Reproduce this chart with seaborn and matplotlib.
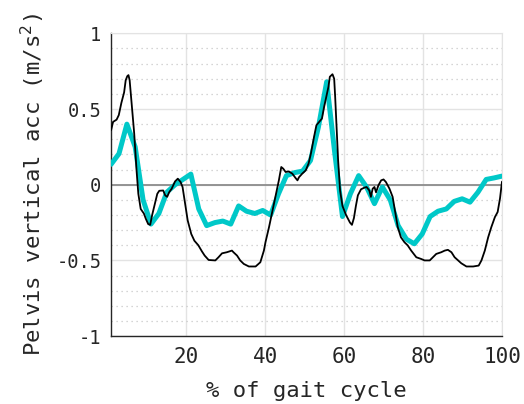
import numpy as np
import pandas as pd
import seaborn as sns
import matplotlib.pyplot as plt
from matplotlib.ticker import MultipleLocator

# measured pelvis acceleration (black, dense)
meas_x = [1.0, 1.5, 2.4, 2.95, 3.6, 4.3, 4.7, 5.1, 5.4, 5.7, 6.2, 6.85, 7.45, 7.9, 8.5,
          9.3, 9.8, 10.4, 10.9, 11.4, 12.1, 12.7, 13.2, 14.2, 14.7, 15.2, 15.7, 16.35,
          17.2, 17.9, 18.6, 19.1, 19.75, 20.4, 21.3, 22.1, 23.1, 24.0, 24.7, 25.7, 27.4,
          28.2, 29.1, 30.3, 31.6, 32.0, 32.9, 33.7, 34.6, 35.9, 37.6, 38.8, 39.7, 40.1,
          41.0, 41.8, 42.6, 43.5, 44.1, 44.6, 45.2, 46.0, 46.9, 47.7, 48.2, 48.6, 49.4,
          50.3, 51.0, 51.6, 52.4, 53.0, 53.7, 54.4, 54.95, 55.5, 56.05, 56.4, 57.07, 57.5,
          57.75, 58.1, 58.5, 59.0, 59.6, 60.5, 61.5, 62.0, 62.5, 63.0, 63.5, 64.3, 65.1,
          65.7, 66.4, 66.8, 67.25, 67.7, 68.1, 68.7, 69.4, 70.0, 70.6, 71.5, 72.3, 72.75,
          73.6, 74.4, 75.3, 76.1, 77.0, 78.3, 79.5, 80.4, 81.7, 82.5, 83.35, 84.6, 85.5,
          86.3, 87.2, 88.0, 88.9, 89.7, 91.0, 92.7, 94.1, 94.8, 95.65, 96.5, 97.3, 98.2,
          98.9, 99.5, 100.0]
meas_y = [0.36, 0.415, 0.43, 0.46, 0.54, 0.61, 0.69, 0.717, 0.724, 0.69, 0.54, 0.34, 0.095,
          -0.06, -0.16, -0.19, -0.225, -0.26, -0.265, -0.20, -0.126, -0.06, -0.04, -0.038,
          -0.07, -0.08, -0.05, -0.026, 0.022, 0.04, 0.018, -0.015, -0.126, -0.236, -0.325,
          -0.37, -0.40, -0.44, -0.468, -0.497, -0.50, -0.479, -0.453, -0.446, -0.435,
          -0.446, -0.468, -0.50, -0.523, -0.54, -0.54, -0.512, -0.435, -0.38, -0.28, -0.18,
          -0.08, 0.03, 0.117, 0.106, 0.084, 0.088, 0.073, 0.045, 0.029, 0.05, 0.073, 0.095,
          0.139, 0.205, 0.316, 0.393, 0.415, 0.437, 0.514, 0.58, 0.647, 0.713, 0.73, 0.70,
          0.58, 0.38, 0.16, -0.04, -0.14, -0.20, -0.25, -0.265, -0.22, -0.14, -0.07, -0.03,
          -0.02, -0.015, -0.038, -0.08, -0.026, -0.015, -0.05, -0.004, 0.029, 0.035, 0.018,
          -0.026, -0.08, -0.148, -0.28, -0.347, -0.38, -0.40, -0.435, -0.479, -0.49, -0.50,
          -0.50, -0.479, -0.457, -0.446, -0.435, -0.43, -0.446, -0.479, -0.50, -0.519,
          -0.54, -0.54, -0.534, -0.50, -0.435, -0.347, -0.28, -0.214, -0.18, -0.09, 0.02]

# model estimate (cyan, coarse)
model_x = [1.0, 3.0, 5.0, 7.1, 9.1, 11.1, 13.1, 15.1, 17.2, 19.2, 21.2, 23.2, 25.2, 27.3,
           29.3, 31.3, 33.3, 35.3, 37.4, 39.4, 41.4, 43.4, 45.4, 47.5, 49.5, 51.5, 53.5,
           55.6, 57.6, 59.6, 61.6, 63.7, 65.7, 67.7, 69.7, 71.7, 73.7, 75.8, 77.8, 79.8,
           81.8, 83.8, 85.9, 87.9, 89.9, 91.9, 93.9, 96.0, 98.0, 100.0]
model_y = [0.135, 0.205, 0.40, 0.25, -0.10, -0.26, -0.19, -0.05, 0.0, 0.035, 0.07, -0.16,
           -0.27, -0.25, -0.24, -0.26, -0.14, -0.175, -0.19, -0.17, -0.20, -0.06, 0.06,
           0.08, 0.09, 0.16, 0.38, 0.68, 0.22, -0.21, -0.06, 0.06, -0.015, -0.125, -0.015,
           -0.10, -0.27, -0.36, -0.39, -0.325, -0.21, -0.175, -0.16, -0.11, -0.093, -0.115,
           -0.05, 0.035, 0.045, 0.057]

meas_df = pd.DataFrame({"x": meas_x, "y": meas_y})
model_df = pd.DataFrame({"x": model_x, "y": model_y})

sns.set_style("white")
plt.rcParams["font.family"] = ["DejaVu Sans Mono", "DejaVu Sans"]

fig = plt.figure(figsize=(5.24, 4.04), dpi=100)
ax = fig.add_axes([0.212, 0.168, 0.746, 0.7495])

ax.set_xlim(1, 100)
ax.set_ylim(-1, 1)
ax.xaxis.set_major_locator(MultipleLocator(20))
ax.yaxis.set_major_locator(MultipleLocator(0.5))
ax.yaxis.set_minor_locator(MultipleLocator(0.1))
ax.grid(which="major", color="#e3e3e3", lw=1.0)
ax.grid(which="minor", axis="y", color="#c8c8c8", lw=0.9, ls=(0, (1, 3)))
ax.axhline(0, color="#8c8c8c", lw=1.3, zorder=1.5)

sns.lineplot(data=model_df, x="x", y="y", color="#00c8c8", lw=3.6, sort=False,
             estimator=None, ax=ax, zorder=3)
sns.lineplot(data=meas_df, x="x", y="y", color="black", lw=1.3, sort=False,
             estimator=None, ax=ax, zorder=4)

for s in ["top", "right"]:
    ax.spines[s].set_color("#e3e3e3")
for s in ["left", "bottom"]:
    ax.spines[s].set_color("#262626")
    ax.spines[s].set_linewidth(1.0)

ax.tick_params(axis="both", which="major", direction="in", length=3, color="#262626",
               labelcolor="#262626")
ax.tick_params(axis="x", labelsize=15, pad=8)
ax.tick_params(axis="y", labelsize=13.5, pad=7)
ax.tick_params(which="minor", length=0)
ax.set_yticks([-1, -0.5, 0, 0.5, 1])
ax.set_yticklabels(["-1", "-0.5", "0", "0.5", "1"])
ax.set_xticks([20, 40, 60, 80, 100])
ax.set_xticklabels(["20", "40", "60", "80", "100"])

ax.set_xlabel("% of gait cycle", fontsize=16, color="#262626", labelpad=10)
ax.set_ylabel("Pelvis vertical acc (m/s$^2$)", fontsize=16, color="#262626", labelpad=7)

fig.savefig("out.png", dpi=100)
